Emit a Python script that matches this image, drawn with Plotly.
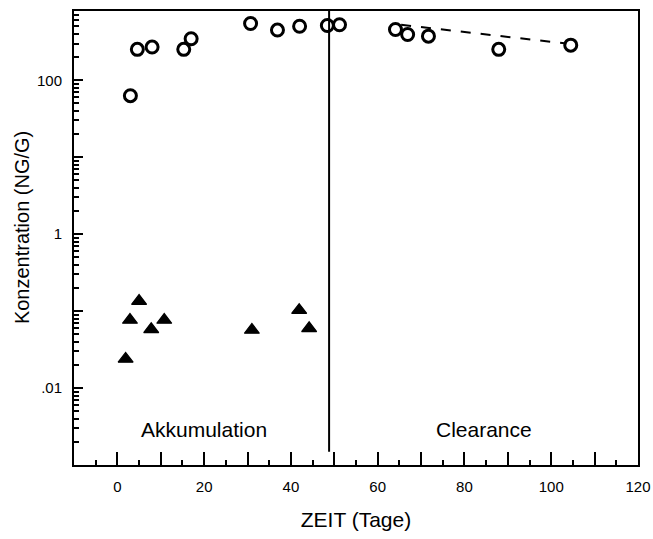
import plotly.graph_objects as go

# Circles: concentration in fish (ng/g)
circ_x = [3.0, 4.6, 8.0, 15.3, 17.0, 30.7, 36.9, 42.0, 48.4, 51.2, 64.1, 66.9, 71.7, 87.9, 104.5]
circ_y = [63, 252, 270, 252, 346, 546, 449, 503, 515, 527, 457, 393, 374, 252, 286]

# Triangles: concentration in water
tri_x = [1.9, 2.9, 5.0, 7.8, 10.8, 31.0, 41.9, 44.2]
tri_y = [0.0239, 0.0766, 0.135, 0.058, 0.0766, 0.0568, 0.103, 0.0597]

# Dashed clearance regression line
fit_x = [65.4, 103.5]
fit_y = [525, 300]

# Phase divider
divider_day = 48.8

x_tickvals = [0, 10, 20, 30, 40, 50, 60, 70, 80, 90, 100, 110, 120]
x_ticktext = ["0", "", "20", "", "40", "", "60", "", "80", "", "100", "", "120"]
x_minor = [-5, 5, 15, 25, 35, 45, 55, 65, 75, 85, 95, 105, 115]

y_tickvals = [0.001, 0.01, 0.1, 1, 10, 100]
y_ticktext = ["", ".01", "", "1", "", "100"]
y_minor = [m * 10 ** e for e in range(-3, 3) for m in range(2, 10)]

font = "Liberation Sans, Arial, sans-serif"

fig = go.Figure()
fig.add_trace(go.Scatter(x=fit_x, y=fit_y, mode="lines",
                         line=dict(color="black", width=2, dash="10px,10px")))
fig.add_trace(go.Scatter(x=circ_x, y=circ_y, mode="markers",
                         marker=dict(symbol="circle-open", size=12, color="black",
                                     line=dict(width=3, color="black"))))
fig.add_trace(go.Scatter(x=tri_x, y=tri_y, mode="markers",
                         marker=dict(symbol="triangle-up", size=13, color="black",
                                     line=dict(width=1.2, color="black"))))

fig.add_shape(type="line", xref="x", yref="paper", x0=divider_day, x1=divider_day,
              y0=0.029, y1=1, line=dict(color="black", width=2))

fig.add_annotation(x=20, y=-2.54, xref="x", yref="y", text="Akkumulation",
                   showarrow=False, font=dict(size=21, color="black", family=font))
fig.add_annotation(x=84.5, y=-2.54, xref="x", yref="y", text="Clearance",
                   showarrow=False, font=dict(size=21, color="black", family=font))
# Y-axis title
fig.add_annotation(x=-0.092, y=0.522, xref="paper", yref="paper",
                   text="Konzentration (NG/G)", textangle=-90, showarrow=False,
                   xanchor="center", yanchor="middle",
                   font=dict(size=20, color="black", family=font))

fig.update_layout(
    width=653, height=539,
    margin=dict(l=74, r=15, t=11, b=74),
    paper_bgcolor="white", plot_bgcolor="white",
    showlegend=False,
    font=dict(family=font, color="black", size=15),
    xaxis=dict(
        range=[-10, 120], showgrid=False, zeroline=False,
        showline=True, linewidth=2, linecolor="black", mirror=True,
        ticks="inside", ticklen=13, tickwidth=2, tickcolor="black",
        tickvals=x_tickvals, ticktext=x_ticktext,
        tickfont=dict(size=15), ticklabelstandoff=7,
        minor=dict(tickvals=x_minor, ticks="inside", ticklen=5, tickwidth=2, tickcolor="black"),
        title=dict(text="ZEIT (Tage)", font=dict(size=21), standoff=18),
        automargin=False,
    ),
    yaxis=dict(
        type="log", range=[-3, 2.9], showgrid=False, zeroline=False,
        showline=True, linewidth=2, linecolor="black", mirror=True,
        ticks="inside", ticklen=9, tickwidth=2, tickcolor="black",
        tickvals=y_tickvals, ticktext=y_ticktext,
        tickfont=dict(size=15), ticklabelstandoff=7,
        minor=dict(tickvals=y_minor, ticks="inside", ticklen=5, tickwidth=1.5, tickcolor="black"),
        automargin=False,
    ),
)

fig.write_html("out.html", config={"displayModeBar": False},
               post_script="document.body.style.margin='0px';document.body.style.overflow='hidden';")
